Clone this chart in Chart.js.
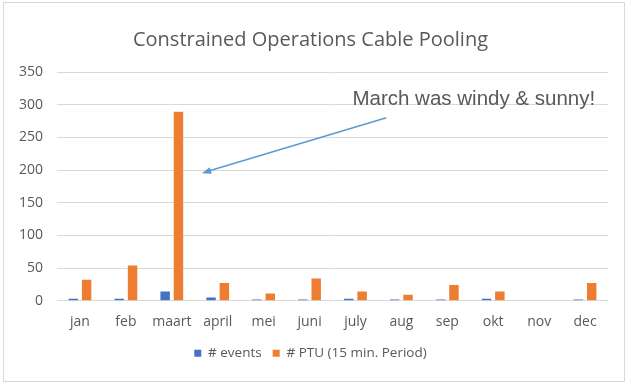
<!DOCTYPE html>
<html>
<head>
<meta charset="utf-8">
<script src="https://cdn.jsdelivr.net/npm/chart.js@4"></script>
<style>
  html, body { margin: 0; padding: 0; background: #fff; }
  #wrap { position: relative; width: 632px; height: 385px; }
  #frame { position: absolute; left: 3px; top: 2px; width: 622px; height: 380px; border: 1px solid #d9d9d9; box-sizing: border-box; pointer-events: none; }
</style>
</head>
<body>
<div id="wrap">
  <canvas id="cableChart" width="632" height="385"></canvas>
  <div id="frame"></div>
</div>
<script>
// data
const months = ['jan', 'feb', 'maart', 'april', 'mei', 'juni', 'july', 'aug', 'sep', 'okt', 'nov', 'dec'];
const events = [3, 3, 14, 5, 2, 2, 3, 2, 2, 3, 0, 2];
const ptu = [32, 54, 289, 27, 11, 34, 14, 9, 24, 14, 0, 27];
const yTicks = [0, 50, 100, 150, 200, 250, 300, 350];

const noteText = 'March was windy & sunny!';

// annotation: text + arrow pointing at the March bar
const notePlugin = {
    id: 'note',
    afterDatasetsDraw(chart) {
        const { ctx, scales } = chart;
        const x = scales.x, y = scales.y;
        const tipX = x.getPixelForValue(2) + 30;
        const tipY = y.getPixelForValue(195);
        const tailX = x.getPixelForValue(7) - 15;
        const tailY = y.getPixelForValue(280);

        ctx.save();
        ctx.font = '20.5px "Liberation Sans", Arial, sans-serif';
        ctx.fillStyle = '#595959';
        ctx.textAlign = 'left';
        ctx.textBaseline = 'middle';
        ctx.fillText(noteText, x.getPixelForValue(6) - 3, y.getPixelForValue(308));

        ctx.strokeStyle = '#5b9bd5';
        ctx.fillStyle = '#5b9bd5';
        ctx.lineWidth = 1.5;
        ctx.beginPath();
        ctx.moveTo(tailX, tailY);
        ctx.lineTo(tipX + 6, tipY - 2);
        ctx.stroke();
        const ang = Math.atan2(tipY - tailY, tipX - tailX);
        ctx.beginPath();
        ctx.moveTo(tipX, tipY);
        ctx.lineTo(tipX - 10 * Math.cos(ang - 0.35), tipY - 10 * Math.sin(ang - 0.35));
        ctx.lineTo(tipX - 10 * Math.cos(ang + 0.35), tipY - 10 * Math.sin(ang + 0.35));
        ctx.closePath();
        ctx.fill();
        ctx.restore();
    }
};

const ctx = document.getElementById('cableChart').getContext('2d');
new Chart(ctx, {
    type: 'bar',
    data: {
        labels: months,
        datasets: [
            { label: '# events', data: events, backgroundColor: '#4472c4' },
            { label: '# PTU (15 min. Period)', data: ptu, backgroundColor: '#ed7d31' }
        ]
    },
    options: {
        responsive: false,
        animation: false,
        categoryPercentage: 0.58,
        barPercentage: 0.71,
        layout: { padding: { left: 13, right: 24, top: 14, bottom: 15 } },
        plugins: {
            title: {
                display: true,
                text: 'Constrained Operations Cable Pooling',
                color: '#595959',
                font: { family: '"Open Sans", sans-serif', size: 20, weight: 'normal' },
                padding: { top: 14, bottom: 20 }
            },
            legend: {
                position: 'bottom',
                labels: {
                    color: '#595959',
                    font: { family: '"Open Sans", sans-serif', size: 13.5 },
                    boxWidth: 7,
                    boxHeight: 7,
                    padding: 11
                }
            },
            tooltip: { enabled: false }
        },
        scales: {
            x: {
                grid: { display: false },
                border: { display: false },
                ticks: {
                    color: '#595959',
                    font: { family: '"Open Sans", sans-serif', size: 14 },
                    padding: 5,
                    minRotation: 0,
                    maxRotation: 0,
                    autoSkip: false
                }
            },
            y: {
                min: 0,
                max: 350,
                afterBuildTicks(axis) { axis.ticks = yTicks.map(v => ({ value: v })); },
                afterFit(axis) { axis.width -= 8; },
                grid: { color: '#d9d9d9', drawTicks: false },
                border: { display: false },
                ticks: { color: '#595959', font: { family: '"Open Sans", sans-serif', size: 14 }, padding: 14 }
            }
        }
    },
    plugins: [notePlugin]
});
</script>
</body>
</html>
